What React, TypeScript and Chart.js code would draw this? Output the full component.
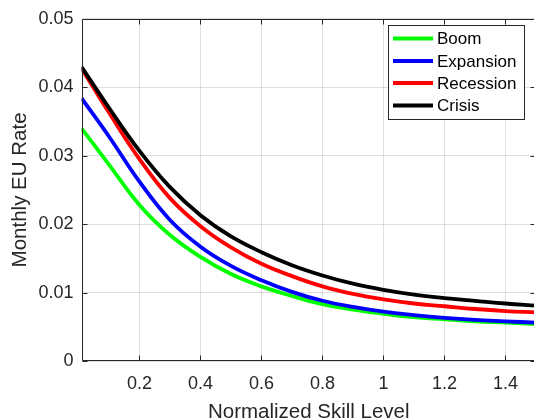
import React, { useEffect, useRef } from 'react';
import { Chart, registerables } from 'chart.js';

Chart.register(...registerables);

const skillLevels = [0.01, 0.1, 0.2, 0.3, 0.4, 0.5, 0.6, 0.7, 0.8, 0.9, 1.0, 1.1, 1.2, 1.3, 1.4, 1.5];
const boom = [0.0340, 0.0287, 0.0228, 0.0184, 0.0152, 0.0127, 0.0109, 0.0095, 0.0083, 0.0075, 0.0069, 0.0064, 0.0061, 0.0058, 0.0056, 0.0054];
const expansion = [0.0384, 0.0328, 0.0262, 0.0206, 0.0167, 0.0139, 0.0118, 0.0101, 0.0088, 0.0079, 0.0072, 0.0067, 0.0063, 0.0060, 0.0058, 0.0056];
const recession = [0.0428, 0.0363, 0.0295, 0.0238, 0.0197, 0.0166, 0.0142, 0.0124, 0.0109, 0.0098, 0.0090, 0.0084, 0.0080, 0.0076, 0.0073, 0.0071];
const crisis = [0.0430, 0.0370, 0.0307, 0.0254, 0.0213, 0.0182, 0.0159, 0.0140, 0.0125, 0.0113, 0.0104, 0.0097, 0.0092, 0.0088, 0.0084, 0.0081];

const seriesNames = ['Boom', 'Expansion', 'Recession', 'Crisis'];
const seriesColors = ['#00ff00', '#0000ff', '#ff0000', '#000000'];
const xTickValues = [0.2, 0.4, 0.6, 0.8, 1, 1.2, 1.4];
const yTickValues = [0, 0.01, 0.02, 0.03, 0.04, 0.05];
const xTitle = 'Normalized Skill Level';
const yTitle = 'Monthly EU Rate';

const FONT = '"Liberation Sans", Arial, Helvetica, sans-serif';
const AXIS_COLOR = '#262626';

const framePlugin = {
  id: 'matlabFrame',
  afterDraw(chart: any) {
    const ctx = chart.ctx as CanvasRenderingContext2D;
    const { left, right, top, bottom } = chart.chartArea;
    const xs = chart.scales.x;
    const ys = chart.scales.y;
    ctx.save();
    ctx.strokeStyle = AXIS_COLOR;
    ctx.lineWidth = 1;
    const L = Math.round(left) + 0.5;
    const R = Math.round(right) - 0.5;
    const T = Math.round(top) + 0.5;
    const B = Math.round(bottom) - 0.5;
    ctx.beginPath();
    ctx.moveTo(L, T);
    ctx.lineTo(R, T);
    ctx.lineTo(R, B);
    ctx.lineTo(L, B);
    ctx.closePath();
    ctx.stroke();
    const tl = 5;
    ctx.beginPath();
    xTickValues.forEach((v) => {
      const px = Math.round(xs.getPixelForValue(v)) + 0.5;
      ctx.moveTo(px, B);
      ctx.lineTo(px, B - tl);
      ctx.moveTo(px, T);
      ctx.lineTo(px, T + tl);
    });
    yTickValues.forEach((v) => {
      const py = Math.round(ys.getPixelForValue(v)) + 0.5;
      ctx.moveTo(L, py);
      ctx.lineTo(L + tl, py);
      ctx.moveTo(R, py);
      ctx.lineTo(R - tl, py);
    });
    ctx.stroke();

    ctx.fillStyle = AXIS_COLOR;
    ctx.font = `20.5px ${FONT}`;
    ctx.textAlign = 'center';
    ctx.textBaseline = 'middle';
    ctx.fillText(xTitle, (left + right) / 2, 412);
    ctx.save();
    ctx.translate(20, (top + bottom) / 2);
    ctx.rotate(-Math.PI / 2);
    ctx.fillText(yTitle, 0, 0);
    ctx.restore();

    const bx = 388.5, by = 25.5, bw = 136, bh = 94;
    ctx.fillStyle = '#ffffff';
    ctx.fillRect(bx, by, bw, bh);
    ctx.strokeStyle = AXIS_COLOR;
    ctx.lineWidth = 1;
    ctx.strokeRect(bx, by, bw, bh);
    const rowY = [38.5, 61, 83, 105.5];
    ctx.font = `17px ${FONT}`;
    ctx.textAlign = 'left';
    ctx.textBaseline = 'middle';
    seriesNames.forEach((name, i) => {
      ctx.strokeStyle = seriesColors[i];
      ctx.lineWidth = 3.8;
      ctx.beginPath();
      ctx.moveTo(393, rowY[i]);
      ctx.lineTo(433, rowY[i]);
      ctx.stroke();
      ctx.fillStyle = '#000000';
      ctx.fillText(name, 437, rowY[i] + 1);
    });
    ctx.restore();
  },
};

export default function App() {
  const canvasRef = useRef<HTMLCanvasElement | null>(null);

  useEffect(() => {
    const canvas = canvasRef.current;
    if (!canvas) return;
    const allSeries = [boom, expansion, recession, crisis];
    const chart = new Chart(canvas, {
      type: 'line',
      data: {
        datasets: allSeries.map((vals, i) => ({
          label: seriesNames[i],
          data: vals.map((v, j) => ({ x: skillLevels[j], y: v })),
          borderColor: seriesColors[i],
          backgroundColor: seriesColors[i],
          borderWidth: 3.8,
          pointRadius: 0,
          fill: false,
          tension: 0.4,
          order: 3 - i,
        })),
      },
      options: {
        responsive: false,
        animation: false,
        devicePixelRatio: 1,
        layout: { padding: { top: 14, right: 2, left: 0, bottom: 0 } },
        plugins: {
          legend: { display: false },
          tooltip: { enabled: false },
          title: { display: false },
        },
        scales: {
          x: {
            type: 'linear',
            min: 0.01,
            max: 1.5,
            afterBuildTicks: (scale: any) => {
              scale.ticks = xTickValues.map((v) => ({ value: v }));
            },
            afterFit: (scale: any) => {
              scale.height = 58;
            },
            border: { display: false },
            grid: { color: 'rgba(38,38,38,0.15)', drawTicks: false, lineWidth: 1 },
            ticks: {
              color: AXIS_COLOR,
              font: { family: FONT, size: 18 },
              padding: 12,
              maxRotation: 0,
              autoSkip: false,
              callback: (v: any) => String(v),
            },
          },
          y: {
            type: 'linear',
            min: 0,
            max: 0.05,
            afterBuildTicks: (scale: any) => {
              scale.ticks = yTickValues.map((v) => ({ value: v }));
            },
            afterFit: (scale: any) => {
              scale.width = 81.5;
            },
            border: { display: false },
            grid: { color: 'rgba(38,38,38,0.15)', drawTicks: false, lineWidth: 1 },
            ticks: {
              color: AXIS_COLOR,
              font: { family: FONT, size: 18 },
              padding: 8,
              autoSkip: false,
              callback: (v: any) => String(v),
            },
          },
        },
      },
      plugins: [framePlugin],
    });
    return () => chart.destroy();
  }, []);

  return (
    <div style={{ position: 'fixed', left: 0, top: 0, width: 534, height: 419, overflow: 'hidden', background: '#fff' }}>
      <canvas ref={canvasRef} width={538} height={419} style={{ display: 'block', width: 538, height: 419 }} />
    </div>
  );
}
